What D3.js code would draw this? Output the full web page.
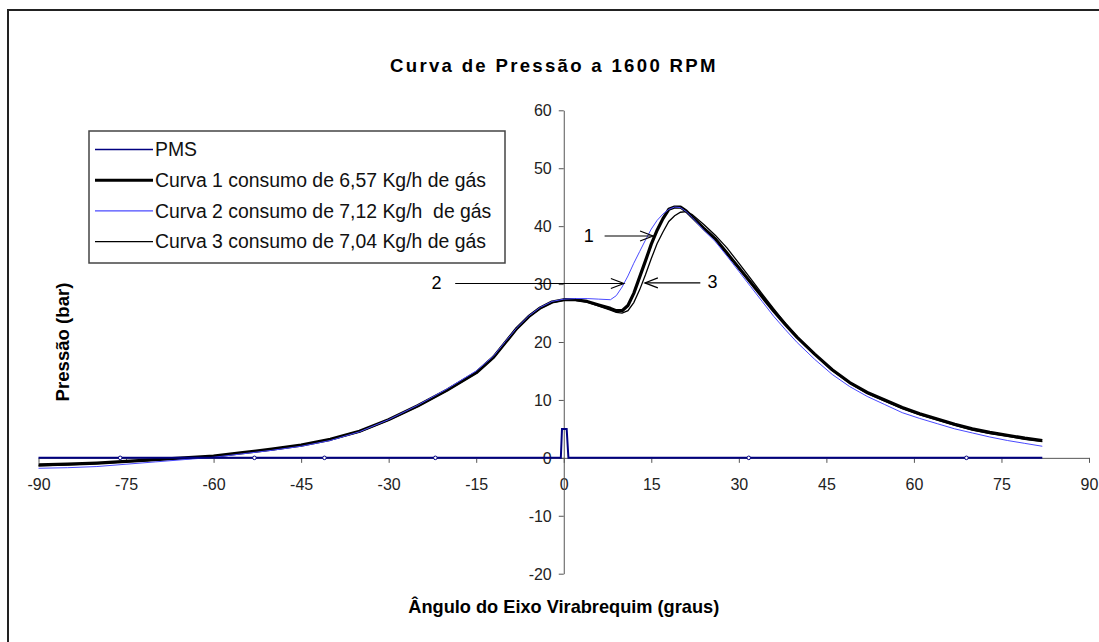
<!DOCTYPE html>
<html>
<head>
<meta charset="utf-8">
<script src="https://cdn.jsdelivr.net/npm/d3@7"></script>
<style>
  html, body { margin: 0; padding: 0; background: #fff; }
  svg { display: block; }
  text { font-family: "Liberation Sans", Arial, sans-serif; }
</style>
</head>
<body>
<svg id="chart" width="1099" height="642"></svg>
<script>
// ---------------- DATA ----------------
const title = "Curva de Pressão a 1600 RPM";
const xLabel = "Ângulo do Eixo Virabrequim (graus)";
const yLabel = "Pressão (bar)";
const xTicks = [-90, -75, -60, -45, -30, -15, 0, 15, 30, 45, 60, 75, 90];
const yTicks = [-20, -10, 0, 10, 20, 30, 40, 50, 60];

const seriesNames = [
  "PMS",
  "Curva 1 consumo de 6,57 Kg/h de gás",
  "Curva 2 consumo de 7,12 Kg/h  de gás",
  "Curva 3 consumo de 7,04 Kg/h de gás"
];

// PMS (top dead centre marker)
const pmsAngles = [-90, -0.5, -0.3, 0.5, 0.8, 82];
const pmsValues = [0, 0, 5, 5, 0, 0];
const pmsMarkerAngles = [-76, -53, -41, -22, 31.7, 69];

// Shared crank-angle grid for the pressure curves
const angles = [-90,-85,-80,-75,-70,-65,-60,-55,-50,-45,-40,-35,-30,-25,-20,-15,-12,-10,-8,-6,-4,-2,
  0,2,4,6,8,9,10,11,12,13,14,15,16,17,18,19,20,21,22,24,26,28,30,32,34,36,38,40,43,46,49,52,55,58,61,64,67,70,73,76,79,82];

const curve1 = [-1.2,-1.1,-0.9,-0.6,-0.3,0.0,0.3,0.9,1.5,2.2,3.2,4.6,6.6,9.0,11.7,14.7,17.4,19.9,22.4,24.4,25.9,26.9,
  27.3,27.3,27.0,26.4,25.8,25.4,25.4,26.3,28.4,31.2,34.0,36.9,39.3,41.3,42.9,43.3,43.3,42.6,41.6,39.6,37.8,35.3,32.8,30.3,27.8,25.3,23.0,20.8,17.9,15.2,13.0,11.3,10.0,8.7,7.6,6.7,5.8,5.0,4.4,3.9,3.4,3.0];

const curve2 = [-1.8,-1.7,-1.5,-1.1,-0.7,-0.3,0.1,0.7,1.3,2.0,3.0,4.5,6.6,9.1,11.9,15.0,17.6,20.1,22.5,24.5,26.0,27.0,
  27.4,27.5,27.5,27.4,27.3,28.0,29.5,31.4,33.6,35.6,37.6,39.5,41.0,42.1,42.9,43.3,43.2,42.5,41.5,39.3,37.3,34.8,32.2,29.6,27.0,24.4,22.1,19.9,17.0,14.4,12.3,10.6,9.2,7.8,6.8,5.9,5.0,4.3,3.6,3.0,2.5,2.0];

const curve3 = [-1.4,-1.2,-1.0,-0.7,-0.4,-0.1,0.2,0.8,1.4,2.1,3.1,4.5,6.5,8.9,11.6,14.6,17.3,19.8,22.3,24.3,25.8,26.8,
  27.2,27.2,26.9,26.2,25.5,25.1,25.0,25.4,26.8,29.0,31.6,34.4,37.0,39.0,40.8,41.8,42.4,42.5,42.0,40.3,38.4,36.2,33.6,31.0,28.3,25.7,23.2,20.9,17.9,15.1,12.9,11.1,9.8,8.5,7.4,6.5,5.6,4.8,4.2,3.7,3.2,2.8];

// Annotation arrows (angle / pressure coordinates)
const annLabels = ["1", "2", "3"];
const annTextAngle = [4.3, -21.8, 25.5];
const annTextValue = [38.3, 30.2, 30.4];
const annFromAngle = [7.0, -18.6, 23.4];
const annToAngle = [15.3, 10.3, 13.9];
const annValue = [38.3, 30.1, 30.2];

// ---------------- CHART ----------------
const svg = d3.select("#chart");
const x = d3.scaleLinear().domain([-90, 90]).range([38.5, 1089]);
const y = d3.scaleLinear().domain([-20, 60]).range([573.7, 110.3]);
const fmt = d => String(d);

// outer frame
svg.append("rect").attr("x", 8).attr("y", 10).attr("width", 1200).attr("height", 700)
  .attr("fill", "#fff").attr("stroke", "#222").attr("stroke-width", 2);

// title
svg.append("text").attr("x", 390).attr("y", 72).attr("text-anchor", "start")
  .attr("font-size", 18.6).attr("font-weight", "bold").attr("letter-spacing", 2.3)
  .attr("fill", "#000").text(title);

// axes
const axisColor = "#555";
const xAxis = svg.append("g").attr("transform", `translate(0,${y(0)})`)
  .call(d3.axisBottom(x).tickValues(xTicks).tickSizeInner(5).tickSizeOuter(0).tickFormat(fmt));
xAxis.select(".domain").attr("stroke", axisColor);
xAxis.selectAll(".tick line").attr("stroke", axisColor);
xAxis.selectAll(".tick text").attr("y", 27).attr("dy", "0.35em")
  .attr("font-size", 16).attr("fill", "#222").attr("font-family", "Liberation Sans, Arial, sans-serif");

const yAxis = svg.append("g").attr("transform", `translate(${x(0)},0)`)
  .call(d3.axisLeft(y).tickValues(yTicks).tickSizeInner(5).tickSizeOuter(0).tickFormat(fmt));
yAxis.select(".domain").attr("stroke", axisColor);
yAxis.selectAll(".tick line").attr("stroke", axisColor);
yAxis.selectAll(".tick text").attr("x", -12).attr("dy", "0.35em")
  .attr("font-size", 16).attr("fill", "#222").attr("font-family", "Liberation Sans, Arial, sans-serif");

// axis titles
svg.append("text").attr("x", x(0)).attr("y", 613).attr("text-anchor", "middle")
  .attr("font-size", 18.2).attr("font-weight", "bold").text(xLabel);
svg.append("text").attr("transform", `translate(69,${y(20)}) rotate(-90)`).attr("text-anchor", "middle")
  .attr("font-size", 18.6).attr("font-weight", "bold").text(yLabel);

// curves
const line = d3.line().x(d => x(d[0])).y(d => y(d[1]));
const zip = (a, b) => a.map((v, i) => [v, b[i]]);

const styles = [
  { color: "#000080", width: 2 },
  { color: "#000000", width: 3.2 },
  { color: "#4a4aff", width: 1 },
  { color: "#000000", width: 1.3 }
];

svg.append("path").datum(zip(angles, curve3)).attr("d", line)
  .attr("fill", "none").attr("stroke", styles[3].color).attr("stroke-width", styles[3].width);
svg.append("path").datum(zip(angles, curve1)).attr("d", line)
  .attr("fill", "none").attr("stroke", styles[1].color).attr("stroke-width", styles[1].width).attr("stroke-linejoin", "round");
svg.append("path").datum(zip(angles, curve2)).attr("d", line)
  .attr("fill", "none").attr("stroke", styles[2].color).attr("stroke-width", styles[2].width);

// PMS
svg.append("path").datum(zip(pmsAngles, pmsValues)).attr("d", line)
  .attr("fill", "none").attr("stroke", styles[0].color).attr("stroke-width", styles[0].width);
svg.selectAll(".pmsm").data(pmsMarkerAngles).enter().append("circle")
  .attr("cx", d => x(d)).attr("cy", y(0)).attr("r", 1.8)
  .attr("fill", "#fff").attr("stroke", "#000080").attr("stroke-width", 1);

// annotations
annLabels.forEach((lab, i) => {
  svg.append("text").attr("x", x(annTextAngle[i])).attr("y", y(annTextValue[i])).attr("dy", "0.35em")
    .attr("text-anchor", "middle").attr("font-size", 18).attr("fill", "#000").text(lab);
  const x1 = x(annFromAngle[i]), x2 = x(annToAngle[i]), yy = y(annValue[i]);
  svg.append("line").attr("x1", x1).attr("x2", x2).attr("y1", yy).attr("y2", yy)
    .attr("stroke", "#000").attr("stroke-width", 1.2);
  const dir = x2 > x1 ? 1 : -1;
  svg.append("path")
    .attr("d", `M${x2 - dir * 13},${yy - 5}L${x2},${yy}L${x2 - dir * 13},${yy + 5}`)
    .attr("fill", "none").attr("stroke", "#000").attr("stroke-width", 1.2);
});

// legend
const lg = svg.append("g");
lg.append("rect").attr("x", 89).attr("y", 131).attr("width", 416).attr("height", 132)
  .attr("fill", "#fff").attr("stroke", "#444").attr("stroke-width", 1.5);
seriesNames.forEach((name, i) => {
  const ly = 149.5 + i * 30.7;
  lg.append("line").attr("x1", 95).attr("x2", 153).attr("y1", ly).attr("y2", ly)
    .attr("stroke", styles[i].color).attr("stroke-width", i === 1 ? 3 : (i === 0 ? 1.5 : 1.2));
  lg.append("text").attr("x", 155).attr("y", ly).attr("dy", "0.35em")
    .attr("font-size", 19.4).attr("fill", "#111").attr("xml:space", "preserve").style("white-space", "pre").text(name);
});
</script>
</body>
</html>
